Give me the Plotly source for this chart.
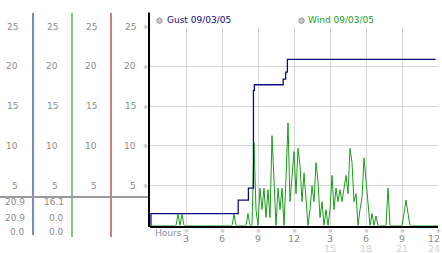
import plotly.graph_objects as go

W, H = 442, 253

# ---- data ----
gust_hours = [0, 0.08, 7.35, 8.2, 8.62, 8.7, 11.1, 11.3, 11.45, 23.8]
gust_values = [0, 1.5, 3.2, 4.7, 17.0, 17.7, 18.4, 19.3, 20.9, 20.9]

# wind, 10-minute samples from hour 0 to 24
wind_values = (
    [0]*6 + [0]*6 +
    [0, 0, 1.4, 0, 1.4, 0] +
    [0]*6 + [0]*6 + [0]*6 + [0]*6 +
    [1.4, 0, 0, 0, 0, 0] +                 # 7
    [0, 1.5, 0, 0, 10.4, 2] +              # 8
    [0, 4.7, 2, 4.7, 1, 4.5] +             # 9
    [1, 11.3, 6, 0, 4.7, 2] +              # 10
    [4.7, 0, 6, 12.9, 3, 6] +              # 11
    [9.3, 4, 9.7, 7.6, 3, 6.6] +           # 12
    [3, 0, 2, 5, 3, 7.9] +                 # 13
    [5.5, 1, 3, 0, 2, 0] +                 # 14
    [2, 6.3, 2, 4.7, 3, 4.5] +             # 15
    [3, 5, 6.3, 4, 9.7, 7.9] +             # 16
    [3, 4, 0, 2, 3.5, 8.5] +               # 17
    [5.3, 2, 0, 1.5, 0, 1.2] +             # 18
    [0, 0, 0, 0, 0, 4.7] +                 # 19
    [0]*6 +                                # 20
    [0, 1.5, 3.2, 1.5, 0, 0] +             # 21
    [0]*6 + [0]*6 + [0]
)
wind_hours = [i / 6 for i in range(len(wind_values))]

y_ticks = [5, 10, 15, 20, 25]
x_ticks = [3, 6, 9, 12, 15, 18, 21, 24]
x_labels_top = ["3", "6", "9", "12", "3", "6", "9", "12"]
x_labels_bottom = ["", "", "", "", "15", "18", "21", "24"]
gust_stats = ["20.9", "20.9", "0.0"]
wind_stats = ["16.1", "0.0", "0.0"]
gust_name = "Gust 09/03/05"
wind_name = "Wind 09/03/05"

GUST_C = "#0b0b86"
WIND_C = "#1a9e1a"
FONT = "DejaVu Sans"

def px(x):
    return x / W

def py(y):
    return 1 - y / H

fig = go.Figure()
fig.add_trace(go.Scatter(x=wind_hours, y=wind_values, mode="lines",
                         line=dict(color=WIND_C, width=1, shape="linear"),
                         showlegend=False, hoverinfo="skip"))
fig.add_trace(go.Scatter(x=gust_hours, y=gust_values, mode="lines",
                         line=dict(color=GUST_C, width=1.3, shape="hv"),
                         showlegend=False, hoverinfo="skip"))

shapes = []
# left panel lines
for xp, col, yb in [(33, "#1f3f9f", 235), (72, "#2f9f2f", 237), (111, "#b02828", 237)]:
    shapes.append(dict(type="line", xref="paper", yref="paper",
                       x0=px(xp), x1=px(xp), y0=py(13), y1=py(yb),
                       line=dict(color=col, width=1.2)))
shapes.append(dict(type="line", xref="paper", yref="paper",
                   x0=0, x1=px(149), y0=py(197), y1=py(197),
                   line=dict(color="#9a9a9a", width=2)))
shapes.append(dict(type="line", xref="paper", yref="paper",
                   x0=px(149), x1=px(149), y0=py(12.5), y1=py(227),
                   line=dict(color="black", width=2)))
# legend circles
for cx in [159.5, 301.5]:
    shapes.append(dict(type="circle", xref="paper", yref="paper",
                       x0=px(cx - 2.7), x1=px(cx + 2.7), y0=py(20.7 + 2.7), y1=py(20.7 - 2.7),
                       line=dict(color="#9a9a9a", width=1), fillcolor="#c8c8c8"))

ann = []
# left panel tick labels
for t in y_ticks:
    for xr in [19.5, 59.5, 99, 137.5]:
        ann.append(dict(x=px(xr), y=t, xref="paper", yref="y", text=str(t),
                        showarrow=False, xanchor="right", yanchor="middle",
                        font=dict(family=FONT, size=9, color="#8c8c8c")))
    ann.append(dict(x=px(145), y=t, xref="paper", yref="y", text="※",
                    showarrow=False, xanchor="center", yanchor="middle",
                    font=dict(family=FONT, size=6, color="#aaaaaa")))
for i, (g, w) in enumerate(zip(gust_stats, wind_stats)):
    yy = [202, 217.5, 232][i]
    ann.append(dict(x=px(27), y=py(yy), xref="paper", yref="paper", text=g,
                    showarrow=False, xanchor="right", yanchor="middle",
                    font=dict(family=FONT, size=9, color="#8c8c8c")))
    ann.append(dict(x=px(65.5), y=py(yy), xref="paper", yref="paper", text=w,
                    showarrow=False, xanchor="right", yanchor="middle",
                    font=dict(family=FONT, size=9, color="#8c8c8c")))
# x labels
for v, t1, t2 in zip(x_ticks, x_labels_top, x_labels_bottom):
    last = v == x_ticks[-1]
    xa = dict(x=1.0, xref="paper", xanchor="right") if last else dict(x=v, xref="x", xanchor="center")
    ann.append(dict(x=v, y=py(230), xref="x", yref="paper", text="※",
                    showarrow=False, xanchor="center", yanchor="middle",
                    font=dict(family=FONT, size=6, color="#aaaaaa")))
    ann.append(dict(**xa, y=py(238.5), yref="paper", text=t1,
                    showarrow=False, yanchor="middle",
                    font=dict(family=FONT, size=9.5, color="#8c8c8c")))
    if t2:
        ann.append(dict(**xa, y=py(248.5), yref="paper", text=t2,
                        showarrow=False, yanchor="middle",
                        font=dict(family=FONT, size=9.5, color="#d0d0d0")))
ann.append(dict(x=px(153), y=py(232.5), xref="paper", yref="paper", text="Hours",
                showarrow=False, xanchor="left", yanchor="middle",
                font=dict(family=FONT, size=9, color="#8c8c8c")))
# legend text
ann.append(dict(x=px(165), y=py(20.5), xref="paper", yref="paper", text=gust_name,
                showarrow=False, xanchor="left", yanchor="middle",
                font=dict(family=FONT, size=9, color=GUST_C)))
ann.append(dict(x=px(306), y=py(20.5), xref="paper", yref="paper", text=wind_name,
                showarrow=False, xanchor="left", yanchor="middle",
                font=dict(family=FONT, size=9, color=WIND_C)))

fig.update_layout(
    width=W, height=H, margin=dict(l=0, r=0, t=0, b=0),
    paper_bgcolor="white", plot_bgcolor="white",
    shapes=shapes, annotations=ann,
    xaxis=dict(domain=[px(150), px(438)], range=[0, 24], tickvals=x_ticks,
               showticklabels=False, ticks="", showgrid=True, gridcolor="#d6d6d6",
               gridwidth=1, zeroline=False, showline=True, linecolor="black",
               linewidth=2, fixedrange=True),
    yaxis=dict(domain=[py(225.5), py(26.7)], range=[0, 25], tickvals=y_ticks,
               showticklabels=False, ticks="", showgrid=True, gridcolor="#d6d6d6",
               gridwidth=1, zeroline=False, showline=False, fixedrange=True),
)
fig.write_html("out.html", config={"displayModeBar": False})
